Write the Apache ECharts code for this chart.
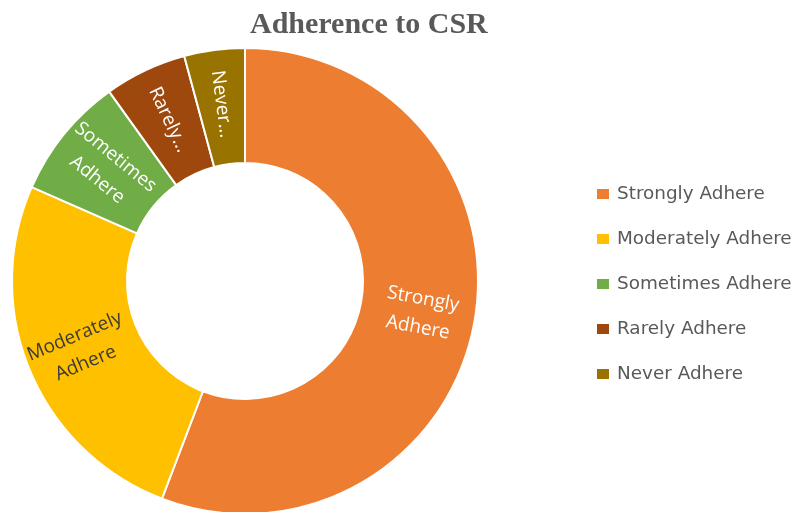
<!DOCTYPE html>
<html>
<head>
<meta charset="utf-8">
<script src="https://cdn.jsdelivr.net/npm/echarts@6/dist/echarts.min.js"></script>
<style>
  html, body { margin: 0; padding: 0; background: #fff; }
  #chart { width: 796px; height: 512px; }
</style>
</head>
<body>
<div id="chart"></div>
<script>
const categories = ['Strongly Adhere', 'Moderately Adhere', 'Sometimes Adhere', 'Rarely Adhere', 'Never Adhere']
const shares = [55.8, 25.8, 8.5, 5.7, 4.2]
const sliceLabels = ['Strongly\nAdhere', 'Moderately\nAdhere', 'Sometimes\nAdhere', 'Rarely…', 'Never…']
const colors = ['#ED7D31', '#FFC000', '#70AD47', '#9E480E', '#997300']
const labelColors = ['#ffffff', '#3a3a3a', '#ffffff', '#ffffff', '#ffffff']

const chart = echarts.init(document.getElementById('chart'))

const option = {
  animation: false,
  color: colors,
  title: {
    text: 'Adherence to CSR',
    left: 245,
    top: 5,
    textStyle: {
      fontFamily: 'Liberation Serif',
      fontWeight: 'bold',
      fontSize: 30,
      color: '#595959'
    }
  },
  legend: {
    orient: 'vertical',
    left: 590,
    top: 180,
    itemWidth: 14,
    itemHeight: 12,
    itemGap: 27,
    icon: 'rect',
    textStyle: {
      fontFamily: 'DejaVu Sans',
      fontSize: 18.4,
      lineHeight: 18,
      color: '#595959',
      padding: [0, 0, 0, 2]
    },
    data: categories
  },
  series: [
    {
      type: 'pie',
      center: [245, 281],
      radius: [118, 233],
      startAngle: 90,
      clockwise: true,
      avoidLabelOverlap: false,
      itemStyle: { borderColor: '#fff', borderWidth: 2 },
      labelLine: { show: false },
      data: categories.map((name, i) => ({
        name,
        value: shares[i],
        label: {
          show: true,
          position: 'inside',
          rotate: 'radial',
          formatter: sliceLabels[i],
          color: labelColors[i],
          fontFamily: 'Open Sans',
          fontSize: 19,
          lineHeight: 29
        }
      }))
    }
  ]
}

chart.setOption(option)
</script>
</body>
</html>
